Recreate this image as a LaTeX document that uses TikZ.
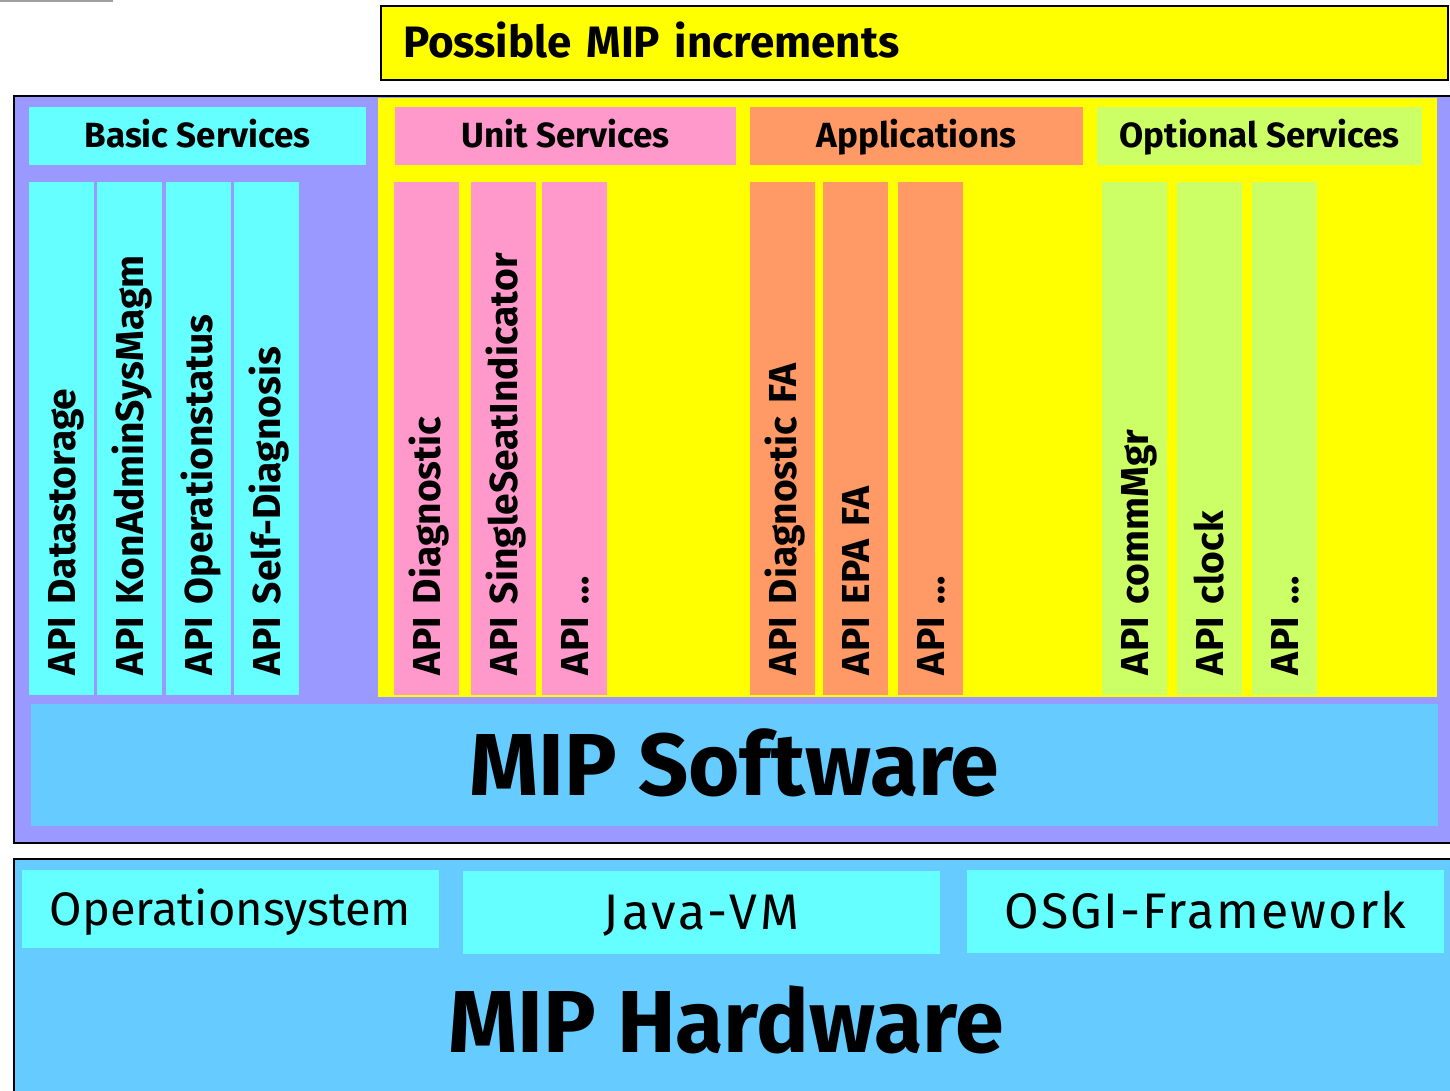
\documentclass[tikz,border=0pt]{standalone}
\usepackage{fontspec}
\setmainfont{Fira Sans}
\usepackage{tikz}
\definecolor{lavender}{HTML}{9999FF}
\definecolor{basiccyan}{HTML}{66FFFF}
\definecolor{skyblue}{HTML}{66CCFF}
\definecolor{unitpink}{HTML}{FF99CC}
\definecolor{apporange}{HTML}{FF9966}
\definecolor{optlime}{HTML}{CCFF66}
\definecolor{incyellow}{HTML}{FFFF00}

\begin{document}
\begin{tikzpicture}[
    x=1pt, y=-1pt,
    blk/.style={inner sep=0pt, outer sep=0pt, text depth=0pt},
    frame/.style={blk, draw=black, line width=2pt},
    head/.style={blk, minimum height=58pt, text height=24pt, font=\fontsize{35}{40}\selectfont\bfseries},
    api/.style={blk, rotate=90, minimum width=513pt, minimum height=65pt, inner xsep=20pt, text width=473pt, align=left, text height=27pt, font=\fontsize{39}{44}\selectfont\bfseries},
    big/.style={blk, text height=60pt, font=\fontsize{88}{96}\selectfont\bfseries},
    plat/.style={blk, fill=basiccyan, text height=33pt, font=\fontsize{47}{54}\selectfont},
]
\useasboundingbox (0,0) rectangle (1450,1091);
\clip (0,0) rectangle (1450,1091);
\fill[gray!75] (0,0) rectangle (113,2);

% increments banner
\node[frame, fill=incyellow, minimum width=1067pt, minimum height=74pt, inner xsep=22pt, text width=1023pt, align=left, text height=30pt, font=\fontsize{44}{50}\selectfont\bfseries] (title) at (914.5,43) {Possible MIP increments};

% software layer
\node[frame, fill=lavender, minimum width=1456pt, minimum height=747pt] (sw) at (742,469.5) {};
\node[blk, fill=incyellow, minimum width=1059pt, minimum height=599pt] (incr) at (907.5,397.5) {};

\node[head, fill=basiccyan, minimum width=337pt] (basic) at (197.5,136) {Basic Services};
\node[head, fill=unitpink, minimum width=341pt] (unit) at (565.5,136) {Unit Services};
\node[head, fill=apporange, minimum width=333pt] (apps) at (916.5,136) {Applications};
\node[head, fill=optlime, minimum width=325pt] (opt) at (1259.5,136) {Optional Services};

\node[api, fill=basiccyan] (bs1) at (61.5,438.5) {API Datastorage};
\node[api, fill=basiccyan] (bs2) at (129.5,438.5) {API KonAdminSysMagm};
\node[api, fill=basiccyan] (bs3) at (198.5,438.5) {API Operationstatus};
\node[api, fill=basiccyan] (bs4) at (266.5,438.5) {API Self-Diagnosis};

\node[api, fill=unitpink] (us1) at (426.5,438.5) {API Diagnostic};
\node[api, fill=unitpink] (us2) at (503.5,438.5) {API SingleSeatIndicator};
\node[api, fill=unitpink] (us3) at (574.5,438.5) {API \dots};

\node[api, fill=apporange] (ap1) at (782.5,438.5) {API Diagnostic FA};
\node[api, fill=apporange] (ap2) at (855.5,438.5) {API EPA FA};
\node[api, fill=apporange] (ap3) at (930.5,438.5) {API \dots};

\node[api, fill=optlime] (os1) at (1134.5,438.5) {API commMgr};
\node[api, fill=optlime] (os2) at (1209.5,438.5) {API clock};
\node[api, fill=optlime] (os3) at (1284.5,438.5) {API \dots};

\node[big, fill=skyblue, minimum width=1407pt, minimum height=122pt] (mipsw) at (734.5,765) {MIP Software};

% hardware layer
\node[frame, fill=skyblue, minimum width=1456pt, minimum height=251pt] (hw) at (742,984.5) {};
\node[plat, minimum width=417pt, minimum height=78pt] (opsys) at (230.5,909) {Operationsystem};
\node[plat, minimum width=477pt, minimum height=83pt, font=\fontsize{50}{56}\selectfont] (jvm) at (701.5,912.5) {\addfontfeature{LetterSpace=6}Java-VM};
\node[plat, minimum width=477pt, minimum height=83pt, font=\fontsize{50}{56}\selectfont] (osgi) at (1205.5,911.5) {\addfontfeature{LetterSpace=4}OSGI-Framework};
\node[big] (miphw) at (726,1022.5) {MIP Hardware};
\end{tikzpicture}
\end{document}
